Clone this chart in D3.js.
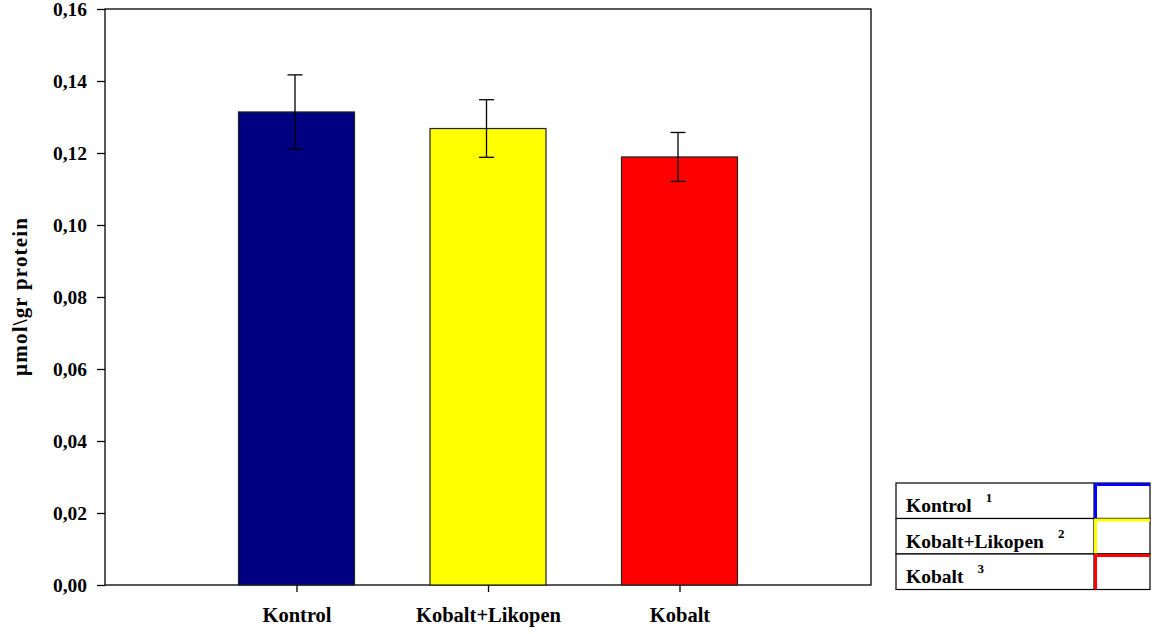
<!DOCTYPE html>
<html>
<head>
<meta charset="utf-8">
<script src="https://cdn.jsdelivr.net/npm/d3@7"></script>
<style>
  html, body { margin: 0; padding: 0; background: #fff; }
  svg { display: block; font-family: "Liberation Serif", "Times New Roman", serif; font-weight: bold; }
</style>
</head>
<body>
<svg id="chart" width="1152" height="634"></svg>
<script>
// Group names, means and error half-widths
const categories = ["Kontrol", "Kobalt+Likopen", "Kobalt"];
const means = [0.1314, 0.1268, 0.1189];
const errors = [0.0103, 0.0080, 0.0068];
const barColors = ["#000080", "#ffff00", "#ff0000"];
const legendColors = ["#0000ff", "#ffff00", "#ff0000"];
const yTicks = [0, 0.02, 0.04, 0.06, 0.08, 0.10, 0.12, 0.14, 0.16];
const yLabel = "µmol\\gr protein";

const svg = d3.select("#chart");
const plot = { left: 105, right: 871, top: 9, bottom: 585 };

const x = d3.scalePoint().domain(categories).range([plot.left, plot.right]).padding(1);
const y = d3.scaleLinear().domain([0, 0.16]).range([plot.bottom, plot.top]);
const barW = 116;
const fmt = d => d.toFixed(2).replace(".", ",");

// plot frame
svg.append("rect")
  .attr("x", plot.left).attr("y", plot.top)
  .attr("width", plot.right - plot.left).attr("height", plot.bottom - plot.top)
  .attr("fill", "none").attr("stroke", "#000").attr("stroke-width", 1.3);

// bars
svg.append("g").selectAll("rect").data(categories).join("rect")
  .attr("x", d => x(d) - barW / 2)
  .attr("y", (d, i) => y(means[i]))
  .attr("width", barW)
  .attr("height", (d, i) => y(0) - y(means[i]))
  .attr("fill", (d, i) => barColors[i])
  .attr("stroke", "#222").attr("stroke-width", 1.2);

// error bars
const eg = svg.append("g").attr("stroke", "#000").attr("stroke-width", 1.3);
categories.forEach((c, i) => {
  const cx = x(c) - 1.5;
  const hi = y(means[i] + errors[i]), lo = y(means[i] - errors[i]);
  eg.append("line").attr("x1", cx).attr("x2", cx).attr("y1", hi).attr("y2", lo);
  eg.append("line").attr("x1", cx - 7.5).attr("x2", cx + 7.5).attr("y1", hi).attr("y2", hi);
  eg.append("line").attr("x1", cx - 7.5).attr("x2", cx + 7.5).attr("y1", lo).attr("y2", lo);
});

// y axis
const yAxis = svg.append("g")
  .attr("transform", `translate(${plot.left},0)`)
  .call(d3.axisLeft(y).tickValues(yTicks).tickFormat(fmt).tickSize(8).tickPadding(10));
yAxis.select(".domain").remove();
yAxis.selectAll("line").attr("stroke", "#000").attr("stroke-width", 1.3);
yAxis.selectAll("text").attr("font-size", 19.5).attr("fill", "#000")
  .attr("font-family", "Liberation Serif").attr("font-weight", "bold");

// x axis
const xAxis = svg.append("g")
  .attr("transform", `translate(0,${plot.bottom})`)
  .call(d3.axisBottom(x).tickSize(7).tickPadding(15));
xAxis.select(".domain").remove();
xAxis.selectAll("line").attr("stroke", "#000").attr("stroke-width", 1.3);
xAxis.selectAll("text").attr("font-size", 20.5).attr("fill", "#000")
  .attr("font-family", "Liberation Serif").attr("font-weight", "bold");

// y axis title
svg.append("text")
  .attr("transform", `translate(27,${(plot.top + plot.bottom) / 2}) rotate(-90)`)
  .attr("text-anchor", "middle")
  .attr("font-size", 21)
  .attr("textLength", 158)
  .attr("lengthAdjust", "spacing")
  .text(yLabel);

// legend table
const lg = { left: 896, top: 483, split: 1094, right: 1150, rowH: 35.5 };
const leg = svg.append("g");
categories.forEach((c, i) => {
  const ty = lg.top + i * lg.rowH;
  leg.append("rect").attr("x", lg.left).attr("y", ty)
    .attr("width", lg.right - lg.left).attr("height", lg.rowH)
    .attr("fill", "#fff").attr("stroke", "#000").attr("stroke-width", 1.2);
  leg.append("line").attr("x1", lg.split).attr("x2", lg.split)
    .attr("y1", ty).attr("y2", ty + lg.rowH).attr("stroke", "#000").attr("stroke-width", 1.2);
  // colored corner marking the swatch cell
  leg.append("path")
    .attr("d", `M${lg.split + 1.5},${ty + lg.rowH}V${ty + 1.5}H${lg.right}`)
    .attr("fill", "none").attr("stroke", legendColors[i]).attr("stroke-width", 3);
  const t = leg.append("text").attr("x", lg.left + 10).attr("y", ty + 29).attr("font-size", 19.5);
  t.append("tspan").text(c);
  t.append("tspan").attr("dx", 14).attr("dy", -10).attr("font-size", 13).text(i + 1);
});
</script>
</body>
</html>
